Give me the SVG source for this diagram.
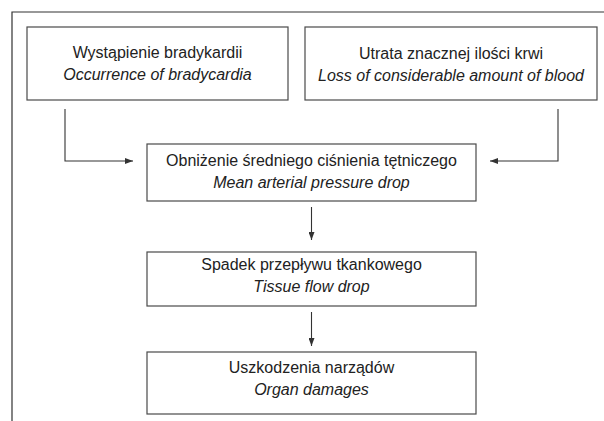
<svg xmlns="http://www.w3.org/2000/svg" width="604" height="421" viewBox="0 0 604 421">
  <defs>
    <style>
      .box { fill: #ffffff; stroke: #4a4a4a; stroke-width: 1.2; }
      .con { fill: none; stroke: #333333; stroke-width: 1.1; }
      .frame { fill: none; stroke: #333333; stroke-width: 1.2; }
      text { font-family: "Liberation Sans", Arial, sans-serif; font-size: 16px; fill: #222222; text-anchor: middle; }
      .en { font-style: italic; }
    </style>
    <marker id="arr" markerWidth="8" markerHeight="6" refX="8" refY="3" orient="auto" markerUnits="userSpaceOnUse">
      <path d="M0,0 L8,3 L0,6 z" fill="#333333"/>
    </marker>
  </defs>
  <rect width="604" height="421" fill="#ffffff"/>
  <path class="frame" d="M605,12 H12 V422"/>

  <g id="n1">
    <rect class="box" x="27" y="27" width="261" height="73"/>
    <text x="157.5" y="58">Wystąpienie bradykardii</text>
    <text class="en" x="157.5" y="80">Occurrence of bradycardia</text>
  </g>
  <g id="n2">
    <rect class="box" x="305" y="27" width="292" height="73"/>
    <text x="451" y="59">Utrata znacznej ilości krwi</text>
    <text class="en" x="451" y="81">Loss of considerable amount of blood</text>
  </g>
  <g id="n3">
    <rect class="box" x="147" y="144" width="329" height="57"/>
    <text x="311.5" y="166">Obniżenie średniego ciśnienia tętniczego</text>
    <text class="en" x="311.5" y="188">Mean arterial pressure drop</text>
  </g>
  <g id="n4">
    <rect class="box" x="147" y="252" width="329" height="54"/>
    <text x="311.5" y="270">Spadek przepływu tkankowego</text>
    <text class="en" x="311.5" y="292">Tissue flow drop</text>
  </g>
  <g id="n5">
    <rect class="box" x="147" y="352" width="329" height="62"/>
    <text x="311.5" y="373">Uszkodzenia narządów</text>
    <text class="en" x="311.5" y="395">Organ damages</text>
  </g>

  <g id="connectors">
    <path class="con" d="M65,109 V161 H133" marker-end="url(#arr)"/>
    <path class="con" d="M558,109 V161 H490" marker-end="url(#arr)"/>
    <path class="con" d="M311.5,207 V240" marker-end="url(#arr)"/>
    <path class="con" d="M311.5,312 V346" marker-end="url(#arr)"/>
  </g>
</svg>
